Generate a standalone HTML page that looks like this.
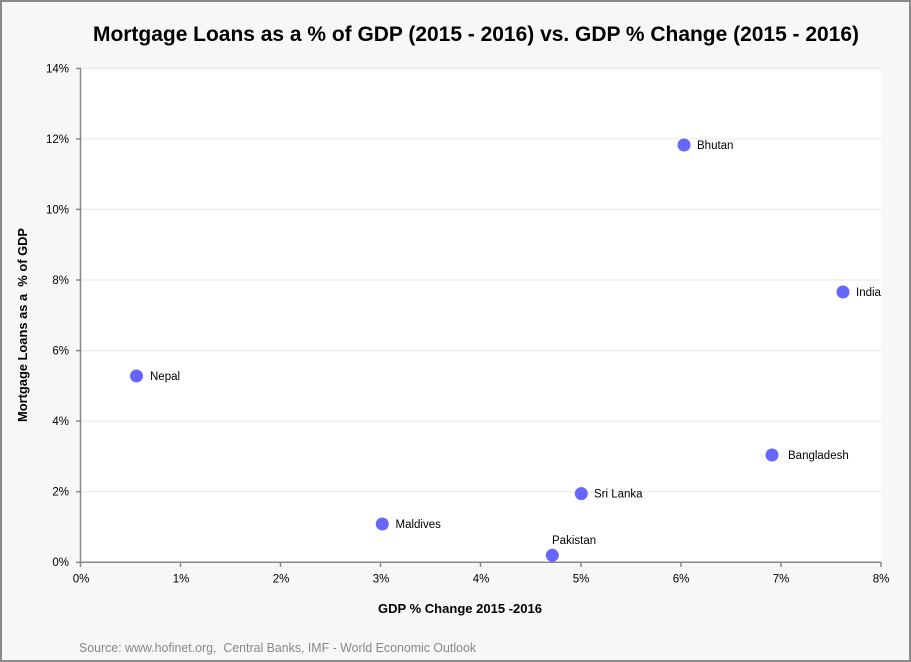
<!DOCTYPE html>
<html><head><meta charset="utf-8"><style>
html,body{margin:0;padding:0;background:#f7f7f7;}
svg{display:block;}
text{font-family:"Liberation Sans",sans-serif;fill:#000;}
</style></head><body>
<svg width="911" height="662" viewBox="0 0 911 662" xmlns="http://www.w3.org/2000/svg">
<rect x="0" y="0" width="911" height="662" fill="#f7f7f7"/>
<rect x="1" y="1" width="909" height="660" fill="none" stroke="#8a8a8a" stroke-width="2"/>
<text x="93" y="41" font-size="21" font-weight="bold" textLength="766" lengthAdjust="spacingAndGlyphs">Mortgage Loans as a % of GDP (2015 - 2016) vs. GDP % Change (2015 - 2016)</text>
<rect x="81" y="68" width="800" height="494" fill="#ffffff"/>
<g stroke="#ececec" stroke-width="1.2">
<line x1="81" x2="881" y1="68.5" y2="68.5"/>
<line x1="81" x2="881" y1="138.9" y2="138.9"/>
<line x1="81" x2="881" y1="209.4" y2="209.4"/>
<line x1="81" x2="881" y1="280" y2="280"/>
<line x1="81" x2="881" y1="350.6" y2="350.6"/>
<line x1="81" x2="881" y1="421.1" y2="421.1"/>
<line x1="81" x2="881" y1="491.7" y2="491.7"/>
</g>
<g stroke="#888" stroke-width="1.5" fill="none">
<line x1="80.5" y1="68" x2="80.5" y2="562.5"/>
<line x1="80" y1="562.3" x2="881" y2="562.3"/>
<line x1="76" x2="81" y1="68.5" y2="68.5"/>
<line x1="76" x2="81" y1="138.9" y2="138.9"/>
<line x1="76" x2="81" y1="209.4" y2="209.4"/>
<line x1="76" x2="81" y1="280" y2="280"/>
<line x1="76" x2="81" y1="350.6" y2="350.6"/>
<line x1="76" x2="81" y1="421.1" y2="421.1"/>
<line x1="76" x2="81" y1="491.7" y2="491.7"/>
<line x1="76" x2="81" y1="562.3" y2="562.3"/>
<line x1="80.5" x2="80.5" y1="562" y2="567"/>
<line x1="180.5" x2="180.5" y1="562" y2="567"/>
<line x1="280.5" x2="280.5" y1="562" y2="567"/>
<line x1="380.5" x2="380.5" y1="562" y2="567"/>
<line x1="480.5" x2="480.5" y1="562" y2="567"/>
<line x1="581" x2="581" y1="562" y2="567"/>
<line x1="681" x2="681" y1="562" y2="567"/>
<line x1="781" x2="781" y1="562" y2="567"/>
<line x1="881" x2="881" y1="562" y2="567"/>
</g>
<g font-size="11.5" text-anchor="end">
<text x="69" y="72.5">14%</text>
<text x="69" y="143">12%</text>
<text x="69" y="213.5">10%</text>
<text x="69" y="284">8%</text>
<text x="69" y="354.5">6%</text>
<text x="69" y="425">4%</text>
<text x="69" y="495.5">2%</text>
<text x="69" y="566">0%</text>
</g>
<g font-size="11.5" text-anchor="middle">
<text x="81" y="582.5">0%</text>
<text x="181" y="582.5">1%</text>
<text x="281" y="582.5">2%</text>
<text x="381" y="582.5">3%</text>
<text x="481" y="582.5">4%</text>
<text x="581" y="582.5">5%</text>
<text x="681" y="582.5">6%</text>
<text x="781" y="582.5">7%</text>
<text x="881" y="582.5">8%</text>
</g>
<text x="378" y="613" font-size="12.5" font-weight="bold" textLength="164" lengthAdjust="spacingAndGlyphs">GDP % Change 2015 -2016</text>
<text transform="translate(27,325) rotate(-90)" text-anchor="middle" font-size="12.5" font-weight="bold" textLength="194" lengthAdjust="spacingAndGlyphs">Mortgage Loans as a &#160;% of GDP</text>
<g fill="#6666ff">
<circle cx="684" cy="145" r="6.5"/>
<circle cx="843" cy="292" r="6.5"/>
<circle cx="136.5" cy="376" r="6.5"/>
<circle cx="772" cy="455" r="6.5"/>
<circle cx="581.3" cy="493.6" r="6.5"/>
<circle cx="382.3" cy="524" r="6.5"/>
<circle cx="552.3" cy="555.3" r="6.5"/>
</g>
<g font-size="11.5">
<text x="697" y="149">Bhutan</text>
<text x="856" y="296">India</text>
<text x="150" y="380">Nepal</text>
<text x="788" y="459">Bangladesh</text>
<text x="594" y="497.5">Sri Lanka</text>
<text x="395.5" y="528">Maldives</text>
<text x="552" y="544">Pakistan</text>
</g>
<text x="79" y="652" font-size="12.5" fill="#888" style="fill:#888" textLength="397" lengthAdjust="spacingAndGlyphs">Source: www.hofinet.org, &#160;Central Banks, IMF - World Economic Outlook</text>
</svg>
</body></html>
